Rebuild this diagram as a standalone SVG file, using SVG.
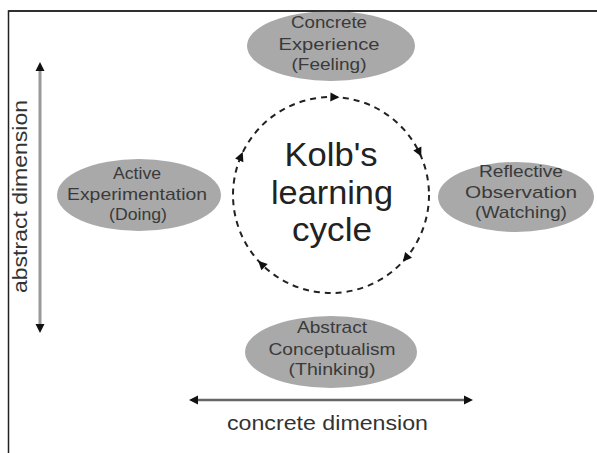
<svg xmlns="http://www.w3.org/2000/svg" xmlns:xlink="http://www.w3.org/1999/xlink" width="597" height="453" viewBox="0 0 597 453">
<style>
.node ellipse{fill:#a9a9a9;}
.node text{font-family:"Liberation Sans",Arial,sans-serif;font-size:17px;fill:#3a3a3a;text-anchor:middle;}
.big{font-family:"Liberation Sans",Arial,sans-serif;font-size:34px;fill:#222;text-anchor:middle;}
.dim{font-family:"Liberation Sans",Arial,sans-serif;font-size:20px;fill:#333;text-anchor:middle;}
.cycle{fill:none;stroke:#222;stroke-width:2;stroke-dasharray:6 5;}
</style>
<defs>
<path id="ah" d="M5,0 L-4,-4.5 L-4,4.5 Z" fill="#111"/>
</defs>
<rect width="597" height="453" fill="#fff"/>
<path d="M8.5,453 V11 H597" fill="none" stroke="#222" stroke-width="1.5"/>

<g id="concrete-experience" class="node">
<ellipse cx="331" cy="46" rx="84" ry="35"/>
<text x="329" y="28" textLength="76" lengthAdjust="spacingAndGlyphs">Concrete</text>
<text x="329" y="50" textLength="101" lengthAdjust="spacingAndGlyphs">Experience</text>
<text x="329" y="70" textLength="75" lengthAdjust="spacingAndGlyphs">(Feeling)</text>
</g>
<path d="M8.5,11 H597" fill="none" stroke="#222" stroke-width="1.5"/>

<g id="active-experimentation" class="node">
<ellipse cx="139" cy="195" rx="82" ry="36"/>
<text x="137" y="179" textLength="48" lengthAdjust="spacingAndGlyphs">Active</text>
<text x="137" y="200" textLength="140" lengthAdjust="spacingAndGlyphs">Experimentation</text>
<text x="138" y="220" textLength="58" lengthAdjust="spacingAndGlyphs">(Doing)</text>
</g>

<g id="reflective-observation" class="node">
<ellipse cx="516" cy="197" rx="78" ry="35"/>
<text x="521" y="177" textLength="84" lengthAdjust="spacingAndGlyphs">Reflective</text>
<text x="521" y="198" textLength="112" lengthAdjust="spacingAndGlyphs">Observation</text>
<text x="521" y="218" textLength="92" lengthAdjust="spacingAndGlyphs">(Watching)</text>
</g>

<g id="abstract-conceptualism" class="node">
<ellipse cx="331" cy="352" rx="86" ry="36"/>
<text x="332" y="333" textLength="70" lengthAdjust="spacingAndGlyphs">Abstract</text>
<text x="332" y="355" textLength="127" lengthAdjust="spacingAndGlyphs">Conceptualism</text>
<text x="332" y="375" textLength="87" lengthAdjust="spacingAndGlyphs">(Thinking)</text>
</g>

<g id="kolb-cycle">
<text class="big" x="331" y="166" textLength="93" lengthAdjust="spacingAndGlyphs">Kolb's</text>
<text class="big" x="332" y="204" textLength="122" lengthAdjust="spacingAndGlyphs">learning</text>
<text class="big" x="332" y="241" textLength="80" lengthAdjust="spacingAndGlyphs">cycle</text>
</g>

<g id="connectors">
<circle class="cycle" cx="331" cy="195" r="98"/>
<use xlink:href="#ah" transform="translate(334.4,97.1) rotate(2)"/>
<use xlink:href="#ah" transform="translate(419.1,152.1) rotate(64)"/>
<use xlink:href="#ah" transform="translate(406,258) rotate(130)"/>
<use xlink:href="#ah" transform="translate(261.7,264.3) rotate(225)"/>
<use xlink:href="#ah" transform="translate(240.8,156.7) rotate(293)"/>

<line x1="40" y1="69" x2="40" y2="326" stroke="#999" stroke-width="3"/>
<path d="M40,62 L44.5,71 L35.5,71 Z" fill="#111"/>
<path d="M40,333 L44.5,324 L35.5,324 Z" fill="#111"/>

<line x1="197" y1="400" x2="465" y2="400" stroke="#666" stroke-width="2.5"/>
<path d="M189,400 L198,395.5 L198,404.5 Z" fill="#111"/>
<path d="M473,400 L464,395.5 L464,404.5 Z" fill="#111"/>
</g>

<text class="dim" x="0" y="0" font-size="21" transform="translate(27,196.5) rotate(-90)" textLength="193" lengthAdjust="spacingAndGlyphs">abstract dimension</text>
<text class="dim" x="327.5" y="430" textLength="201" lengthAdjust="spacingAndGlyphs">concrete dimension</text>
</svg>
